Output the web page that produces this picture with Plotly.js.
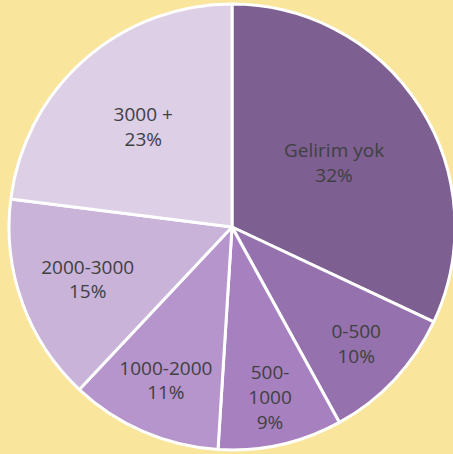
<!DOCTYPE html>
<html>
<head>
<meta charset="utf-8">
<script src="https://cdn.plot.ly/plotly-3.0.1.min.js"></script>
<style>
html,body{margin:0;padding:0;background:#F9E59C;overflow:hidden;}
#chart{width:460px;height:454px;}
</style>
</head>
<body>
<div id="chart"></div>
<script>
var categories = ["Gelirim yok", "0-500", "500-1000", "1000-2000", "2000-3000", "3000 +"];
var displayLabels = ["Gelirim yok", "0-500", "500-<br>1000", "1000-2000", "2000-3000", "3000 +"];
var values = [32, 10, 9, 11, 15, 23];
var colors = ["#7D5F91", "#9571AD", "#A680BF", "#B595CC", "#C9B3D8", "#DCCFE6"];

Plotly.newPlot("chart", [{
  type: "pie",
  labels: categories,
  values: values,
  text: displayLabels,
  sort: false,
  direction: "clockwise",
  rotation: 0,
  marker: {colors: colors, line: {color: "#FFFFFF", width: 3}},
  textinfo: "text+percent",
  texttemplate: "%{text}<br>%{percent:.0%}",
  textposition: "inside",
  insidetextorientation: "horizontal",
  insidetextfont: {family: "Open Sans, sans-serif", size: 19, color: "#404040"},
  hoverinfo: "none"
}], {
  width: 460,
  height: 454,
  margin: {l: 9, r: 5, t: 4, b: 4},
  paper_bgcolor: "#F9E59C",
  plot_bgcolor: "#F9E59C",
  showlegend: false
}, {staticPlot: true});
</script>
</body>
</html>
